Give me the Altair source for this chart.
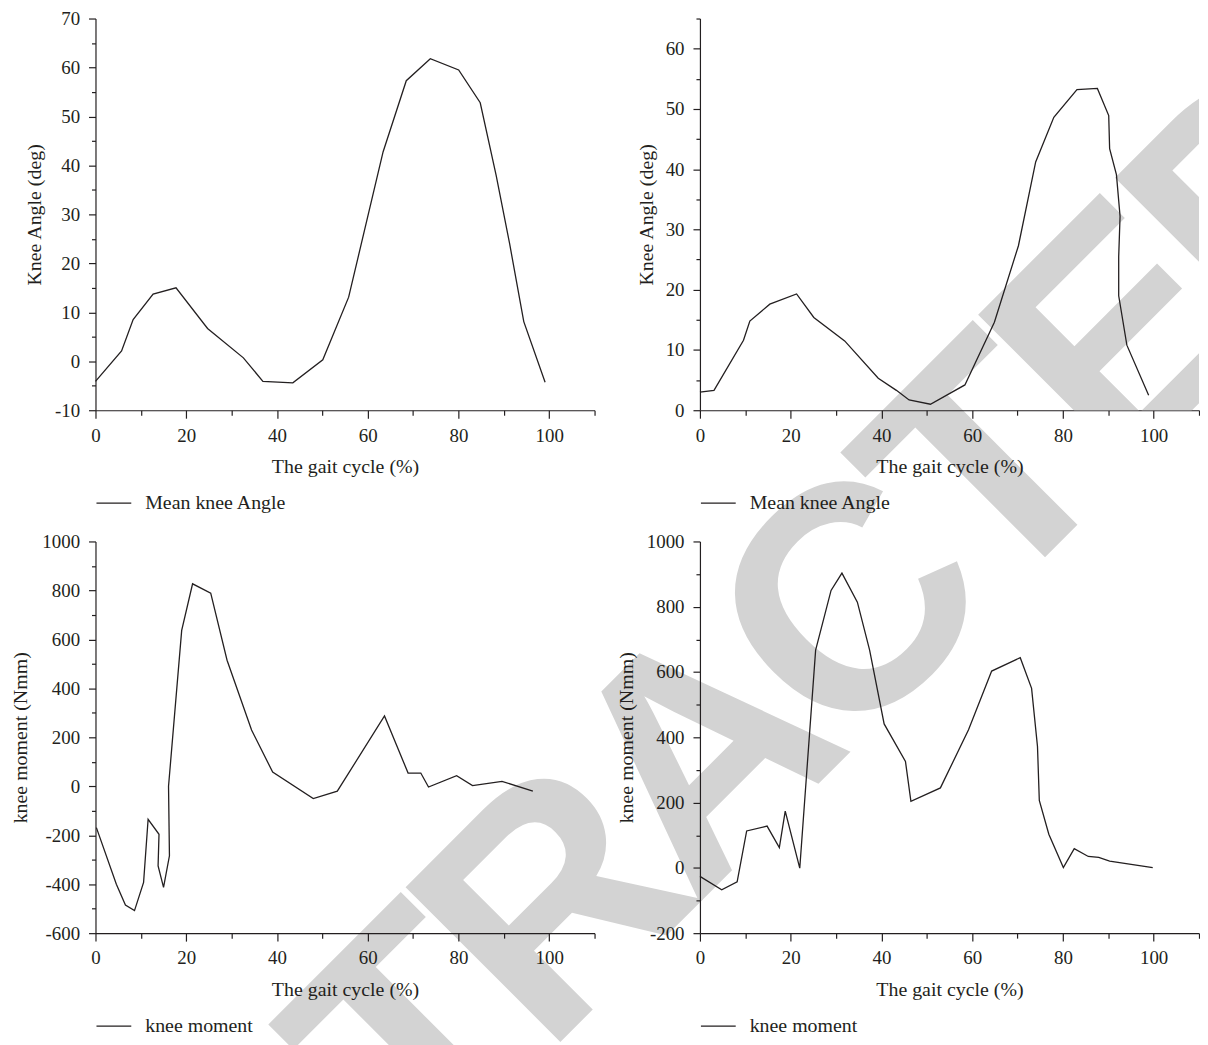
import math
import altair as alt
import pandas as pd

FONT = "Liberation Serif"
INK = "#231f20"

# ---- Panel A: mean knee angle (top-left)
a_x = [0, 5.75, 8.3, 12.7, 17.75, 24.7, 32.6, 36.9, 43.5, 50.1, 55.8, 63.4, 68.5, 73.8, 80.05, 84.8, 88.3, 91.3, 94.4, 99.1]
a_y = [-4.1, 2.1, 8.5, 13.7, 15.0, 6.7, 0.7, -4.1, -4.4, 0.3, 13.1, 42.8, 57.3, 61.8, 59.5, 52.8, 38.0, 23.9, 8.1, -4.3]

# ---- Panel B: mean knee angle (top-right)
b_x = [0, 3.1, 9.6, 11.0, 15.4, 21.3, 25.1, 31.9, 39.3, 43.3, 46.1, 50.8, 58.4, 64.9, 70.2, 74.0, 78.0, 83.1, 87.6, 90.1, 90.3, 91.8, 92.6, 92.3, 92.3, 94.1, 98.9]
b_y = [3.0, 3.3, 11.6, 14.8, 17.6, 19.3, 15.4, 11.5, 5.3, 3.3, 1.7, 1.0, 4.2, 14.6, 27.3, 41.2, 48.6, 53.2, 53.4, 48.9, 43.4, 39.1, 32.2, 25.5, 19.0, 10.8, 2.5]

# ---- Panel C: knee moment (bottom-left)
c_x = [0.2, 4.6, 6.6, 8.6, 10.6, 11.6, 14.0, 13.8, 15.0, 16.3, 16.1, 19.0, 21.4, 25.4, 29.0, 34.4, 39.05, 48.0, 53.3, 63.7, 68.9, 71.7, 73.4, 79.6, 83.1, 89.6, 96.4]
c_y = [-169, -400, -485, -508, -393, -135, -196, -325, -413, -284, 0, 637, 827, 789, 515, 230, 58, -50, -20, 287, 54, 54, -3, 43, 3, 20, -20]

# ---- Panel D: knee moment (bottom-right)
d_x = [0, 4.8, 8.2, 10.3, 14.8, 17.5, 18.8, 22.0, 25.5, 28.9, 31.3, 34.7, 37.4, 40.6, 45.3, 46.5, 53.0, 59.2, 64.3, 70.6, 73.1, 74.4, 74.8, 76.9, 80.1, 82.5, 85.6, 87.9, 90.3, 99.8]
d_y = [-26, -67, -43, 113, 128, 62, 174, -1, 667, 850, 903, 814, 667, 441, 326, 204, 245, 423, 603, 644, 550, 372, 207, 103, 1, 59, 35, 32, 21, 1]

X_TITLE = "The gait cycle (%)"
X_TICKS = list(range(0, 111, 10))

# ---- watermark (rotated light-grey "RETRACTED" behind the figure)
WM_TEXT = "RETRACTED"
WM_ADV = {"R": 0.722, "E": 0.667, "T": 0.611, "A": 0.722, "C": 0.722, "D": 0.722}
WM_SIZE = 320        # glyph size
WM_PITCH = 293       # em used for letter spacing
WM_ROT = 45          # degrees, baseline rising to the right
WM_START = (141, 1470)  # page position of the baseline start
WM_COLOR = "#d3d3d3"

W, H = 502, 394
COL_GAP, ROW_GAP = 106, 132
P1_ORIGIN = (96, 18)
P2_ORIGIN = (P1_ORIGIN[0] + W + COL_GAP, P1_ORIGIN[1])


def watermark_letters():
    cum = 0.0
    out = []
    c, s = math.cos(math.radians(WM_ROT)), math.sin(math.radians(WM_ROT))
    for i, ch in enumerate(WM_TEXT):
        adv = WM_ADV[ch]
        mid = (cum + adv / 2) * WM_PITCH
        out.append((i, ch, WM_START[0] + mid * c, WM_START[1] - mid * s))
        cum += adv
    return out


def wm_layer(ch, px, py, origin, clip):
    return alt.Chart(pd.DataFrame({"t": [ch]})).mark_text(
        font="Liberation Sans", fontWeight="bold", fontSize=WM_SIZE, color=WM_COLOR,
        angle=360 - WM_ROT, align="center", baseline="alphabetic", clip=clip,
    ).encode(
        text="t:N",
        x=alt.value(px - origin[0]),
        y=alt.value(py - origin[1]),
    )


def line_chart(xs, ys, name, ydom, ytick_step, ylab_step, ytitle, ytitle_x):
    df = pd.DataFrame({"x": xs, "y": ys, "i": list(range(len(xs))), "s": [name] * len(xs)})
    yvals = list(range(ydom[0], ydom[1] + 1, ytick_step))
    xaxis = alt.Axis(
        values=X_TICKS,
        labelExpr="datum.value % 20 === 0 ? '' + datum.value : ''",
        tickSize={"condition": {"test": "datum.value % 20 === 0", "value": 8}, "value": 5},
        title=X_TITLE, titleY=57, titleBaseline="middle",
        labelPadding=8, labelFlush=False, labelOverlap=False, grid=False,
    )
    yaxis = alt.Axis(
        values=yvals,
        labelExpr=f"datum.value % {ylab_step} === 0 ? '' + datum.value : ''",
        tickSize={"condition": {"test": f"datum.value % {ylab_step} === 0", "value": 7}, "value": 4},
        title=ytitle, titleX=ytitle_x, titleBaseline="middle",
        labelPadding=9, labelFlush=False, labelOverlap=False, grid=False,
    )
    return alt.Chart(df).mark_line(strokeWidth=1.3).encode(
        x=alt.X("x:Q", scale=alt.Scale(domain=[0, 110], nice=False, zero=False), axis=xaxis),
        y=alt.Y("y:Q", scale=alt.Scale(domain=list(ydom), nice=False, zero=False), axis=yaxis),
        order="i:Q",
        color=alt.Color(
            "s:N",
            scale=alt.Scale(range=[INK]),
            legend=alt.Legend(
                title=None, orient="none", legendX=0, legendY=469,
                symbolType="stroke", symbolSize=1225, symbolStrokeWidth=1.3,
                labelFont=FONT, labelFontSize=20, labelColor=INK, labelOffset=13,
                padding=0,
            ),
        ),
    )


letters = [l for l in watermark_letters() if l[0] >= 2]
wm_p1 = [wm_layer(ch, px, py, P1_ORIGIN, False) for (i, ch, px, py) in letters if i <= 6]
wm_p2 = [wm_layer(ch, px, py, P2_ORIGIN, True) for (i, ch, px, py) in letters if i >= 7]

l1 = line_chart(a_x, a_y, "Mean knee Angle", (-10, 70), 5, 10, "Knee Angle (deg)", -61)
l2 = line_chart(b_x, b_y, "Mean knee Angle", (0, 65), 5, 10, "Knee Angle (deg)", -54)
l3 = line_chart(c_x, c_y, "knee moment", (-600, 1000), 100, 200, "knee moment (Nmm)", -75)
l4 = line_chart(d_x, d_y, "knee moment", (-200, 1000), 100, 200, "knee moment (Nmm)", -74)

p1 = alt.layer(*wm_p1, l1).properties(width=W, height=H)
p2 = alt.layer(*wm_p2, l2).properties(width=W, height=H)
p3 = l3.properties(width=W, height=H)
p4 = l4.properties(width=W, height=H)

chart = alt.concat(
    p1, p2, p3, p4, columns=2, bounds="flush",
    spacing={"row": ROW_GAP, "column": COL_GAP},
).resolve_scale(
    x="independent", y="independent", color="independent"
).resolve_legend(color="independent").configure(
    padding={"left": 3, "top": -2, "right": 0, "bottom": 0},
    background="white",
).configure_view(stroke=None).configure_axis(
    labelFont=FONT, labelFontSize=19, labelColor=INK,
    titleFont=FONT, titleFontSize=20, titleFontWeight="normal", titleColor=INK,
    domainColor=INK, tickColor=INK, domainWidth=1.2, tickWidth=1.2,
)

chart.save("out.html", embed_options={"renderer": "svg", "actions": False})
